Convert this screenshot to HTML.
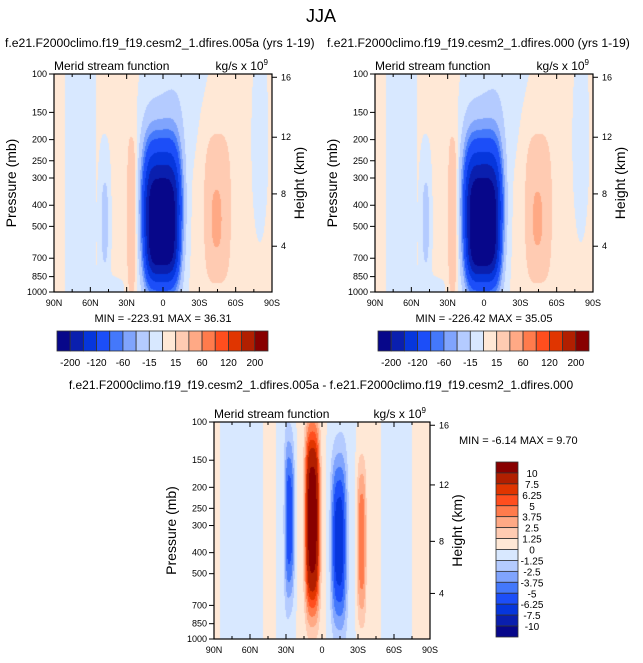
<!DOCTYPE html>
<html><head><meta charset="utf-8"><style>
html,body{margin:0;padding:0;background:#fff;}
#root{position:relative;width:643px;height:663px;overflow:hidden;font-family:"Liberation Sans",Arial,sans-serif;}
svg{position:absolute;left:0;top:0;}
</style></head><body>
<div id="root">
<svg id="svg" width="643" height="663" xmlns="http://www.w3.org/2000/svg"></svg>
</div>
<script>
// ---- data ----
const levelsMain = [-200,-160,-120,-80,-60,-40,-15,0,15,40,60,80,120,160,200];
const levelsDiff = [-10,-7.5,-6.25,-5,-3.75,-2.5,-1.25,0,1.25,2.5,3.75,5,6.25,7.5,10];
const colors = ["#07078a","#0a1fae","#0636dc","#1c4ef8","#4478fb","#80a4fd","#b4cbff","#d8e8ff","#ffe8d6","#ffcbb2","#ffa985","#ff7b4c","#ff4e1e","#e03500","#b11f00","#880000"];
const latTicks = [90,60,30,0,-30,-60,-90];
const latTickLabels = ["90N","60N","30N","0","30S","60S","90S"];
const presTicks = [100,150,200,250,300,400,500,700,850,1000];
const heightTicks = [16,12,8,4];
const heightPos = [0.015,0.29,0.55,0.79];
const mainLabels = ["-200","-120","-60","-15","15","60","120","200"];
const diffLabels = ["10","7.5","6.25","5","3.75","2.5","1.25","0","-1.25","-2.5","-3.75","-5","-6.25","-7.5","-10"];
// field cells: lat, log10(p/100), amplitude, sigma-lat, sigma-z, lat exponent, z exponent
const cellLat1 = [1,1,-12,-45,-44,26,48,68,-80,45,-45,0];
const cellZ1   = [0.60,0.85,0.0,0.62,0.68,0.65,0.68,0.5,0.3,1.0,1.0,0.5];
const cellAmp1 = [-238,-110,-9,30,15,30,-25,-5,-4,-5,-4,1];
const cellSL1  = [16,14,18,12,6,4,3.5,10,6,12,10,1000];
const cellSZ1  = [0.29,0.15,0.35,0.38,0.2,0.4,0.25,10,0.4,0.06,0.05,1000];
const cellPL1  = [4,4,2,3,2.5,3,2.5,2,2,2,2,2];
const cellPZ1  = [2,2,2,3,2.5,3,2.5,2,2,2,2,2];
const cellAmp2 = [-240,-111,-9,30,14,30,-25,-5,-4,-5,-4,1];
const cellLatD = [8,27,-14,-33,67,30,-17,-62,0];
const cellZD   = [0.45,0.45,0.55,0.55,0.5,0.5,0.5,0.5,0.5];
const cellAmpD = [12,-5.4,-6.6,4.6,-0.8,-0.8,-0.8,-0.8,0.15];
const cellSLD  = [6,4,6.5,3.8,14,6,10,10,1000];
const cellSZD  = [0.42,0.36,0.38,0.36,10,10,10,10,1000];
const cellPLD  = [3,3,3,3,2,2,2,2,2];
const cellPZD  = [3,3,3,3,2,2,2,2,2];

const svg=document.getElementById('svg');
const NS='http://www.w3.org/2000/svg';
function mk(tag,attrs,parent){const e=document.createElementNS(NS,tag);for(const k in attrs)e.setAttribute(k,attrs[k]);(parent||svg).appendChild(e);return e;}
function txt(x,y,s,size,anchor,parent,rot){const t=mk('text',{x:x,y:y,'font-size':size,'text-anchor':anchor||'start',fill:'#000'},parent);if(rot)t.setAttribute('transform','rotate(-90 '+x+' '+y+')');t.textContent=s;return t;}

function field(lat,z,la,zz,am,sl,sz,pl,pz){let v=0;for(let i=0;i<la.length;i++){const a=Math.abs((lat-la[i])/sl[i]),b=Math.abs((z-zz[i])/sz[i]);v+=am[i]*Math.exp(-(Math.pow(a,pl[i])+Math.pow(b,pz[i])));}return v;}
function colorIdx(v,lv){let i=0;while(i<lv.length&&v>=lv[i])i++;return i;}

function plot(name,x0,y0,w,h,la,zz,am,sl,sz,pl,pz,lv){
  const g=mk('g',{});
  
  
  const fo=mk('foreignObject',{x:x0,y:y0,width:w,height:h},g);
  const cv=document.createElement('canvas');cv.width=w;cv.height=h;cv.style.display='block';fo.appendChild(cv);
  
  
  const ctx=cv.getContext('2d');
  for(let py=0;py<h;py++){const z=(py+0.5)/h;for(let px=0;px<w;px++){const lat=90-180*(px+0.5)/w;const v=field(lat,z,la,zz,am,sl,sz,pl,pz);ctx.fillStyle=colors[colorIdx(v,lv)];ctx.fillRect(px,py,1,1);}}
  mk('rect',{x:x0,y:y0,width:w,height:h,fill:'none',stroke:'#000','stroke-width':1.2},g);
  const xs=lat=>x0+(90-lat)/180*w, ys=p=>y0+Math.log10(p/100)*h;
  for(let l=90;l>=-90;l-=15){const x=xs(l);const len=(l%30===0)?5:3;mk('line',{x1:x,y1:y0+h,x2:x,y2:y0+h-len,stroke:'#000'},g);mk('line',{x1:x,y1:y0,x2:x,y2:y0+len,stroke:'#000'},g);}
  latTicks.forEach((l,i)=>{const t=txt(xs(l),y0+h+14,latTickLabels[i],9,'middle',g);});
  presTicks.forEach(p=>{const y=ys(p);mk('line',{x1:x0,y1:y,x2:x0-5,y2:y,stroke:'#000'},g);const t=txt(x0-7,y+3,String(p),9,'end',g);});
  heightTicks.forEach((hk,i)=>{const y=y0+heightPos[i]*h;mk('line',{x1:x0+w,y1:y,x2:x0+w+5,y2:y,stroke:'#000'},g);const t=txt(x0+w+9,y+3,String(hk),9,'start',g);});
  const t1=txt(x0,y0-4,'Merid stream function',12,'start',g);
  const t2=mk('text',{x:x0+w-4,y:y0-4,'font-size':12,'text-anchor':'end'},g);t2.innerHTML='kg/s x 10<tspan dy="-5" font-size="8">9</tspan>';
  
  const t3=txt(x0-38,y0+h/2,'Pressure (mb)',14,'middle',g,true);
  const t4=txt(x0+w+32,y0+h/2,'Height (km)',14,'middle',g,true);
}
function hbar(name,x0,y0,w,h){const g=mk('g',{});const bw=w/colors.length;
  colors.forEach((c,i)=>{const r=mk('rect',{x:x0+i*bw,y:y0,width:bw,height:h,fill:c,stroke:'#333','stroke-width':0.8},g);});
  mainLabels.forEach((s,i)=>{const t=txt(x0+(1+2*i)*bw,y0+h+15,s,10,'middle',g);});}
function vbar(name,x0,y0,w,h){const g=mk('g',{});const bh=h/colors.length;
  colors.slice().reverse().forEach((c,i)=>{const r=mk('rect',{x:x0,y:y0+i*bh,width:w,height:bh,fill:c,stroke:'#333','stroke-width':0.8},g);});
  diffLabels.forEach((s,i)=>{const t=txt(x0+w+14,y0+(i+1)*bh+4,s,10,'middle',g);});}

const tt=txt(321,22,'JJA',18,'middle');
const s1=txt(5,47,'f.e21.F2000climo.f19_f19.cesm2_1.dfires.005a (yrs 1-19)',12.2,'start');
const s2=txt(327,47,'f.e21.F2000climo.f19_f19.cesm2_1.dfires.000 (yrs 1-19)',12.2,'start');
plot('left-plot',54,74,218,218,cellLat1,cellZ1,cellAmp1,cellSL1,cellSZ1,cellPL1,cellPZ1,levelsMain);
plot('right-plot',375,74,218,218,cellLat1,cellZ1,cellAmp2,cellSL1,cellSZ1,cellPL1,cellPZ1,levelsMain);
plot('diff-plot',214,422,216,217,cellLatD,cellZD,cellAmpD,cellSLD,cellSZD,cellPLD,cellPZD,levelsDiff);
const m1=txt(163,322,'MIN = -223.91  MAX =  36.31',11,'middle');
const m2=txt(484,322,'MIN = -226.42  MAX =  35.05',11,'middle');
hbar('left-colorbar',57,331,211,20);
hbar('right-colorbar',378,331,211,20);
const bt=txt(321,389,'f.e21.F2000climo.f19_f19.cesm2_1.dfires.005a - f.e21.F2000climo.f19_f19.cesm2_1.dfires.000',12,'middle');
const m3=txt(459,444,'MIN = -6.14  MAX =  9.70',11,'start');
vbar('diff-colorbar',496,462,22,175);
</script>
</body></html>
